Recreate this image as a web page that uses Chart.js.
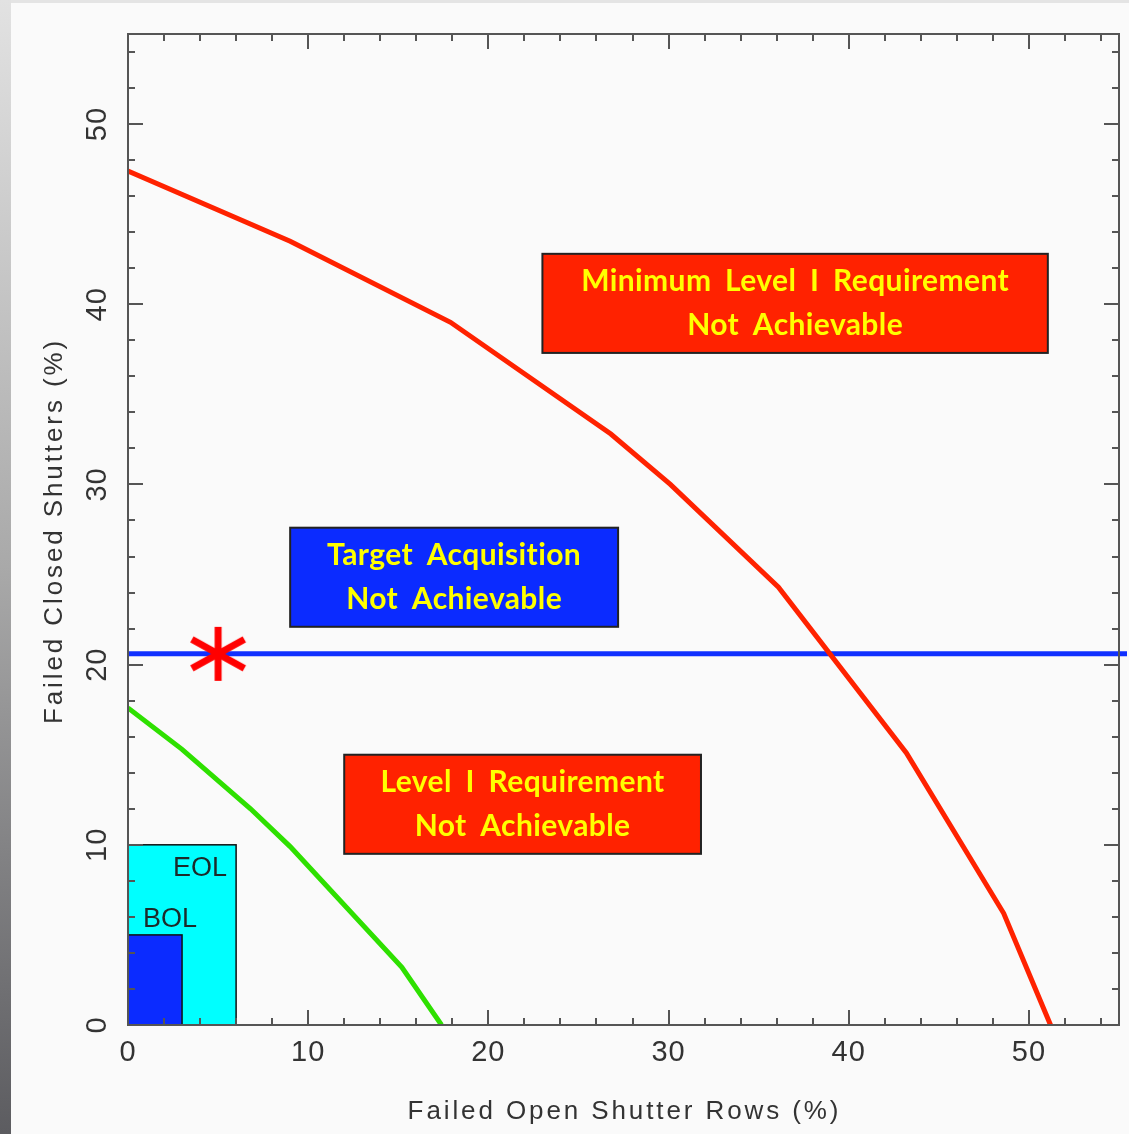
<!DOCTYPE html>
<html><head><meta charset="utf-8">
<script src="https://cdn.jsdelivr.net/npm/chart.js@4.4.1/dist/chart.umd.min.js"></script>
<style>
html,body{margin:0;padding:0;background:#fafafa;overflow:hidden}
#wrap{position:relative;width:1129px;height:1134px}
#c{position:absolute;left:0;top:0}
#topstrip{position:absolute;left:0;top:0;width:1129px;height:3px;background:#e4e4e4}
#leftstrip{position:absolute;left:0;top:0;width:11px;height:1134px;background:linear-gradient(#e2e2e2,#a9a9a9 50%,#5c5c60)}
</style></head><body>
<div id="wrap"><canvas id="c" width="1129" height="1134"></canvas><div id="topstrip"></div><div id="leftstrip"></div></div>
<script>
// ---- data ----
const redX = [0, 9.0, 17.9, 26.8, 30.1, 36.1, 43.2, 48.6, 51.2];
const redY = [47.4, 43.5, 39.0, 32.8, 30.0, 24.3, 15.1, 6.2, 0];
const greenX = [0, 3.0, 6.8, 9.0, 15.2, 17.4];
const greenY = [17.6, 15.3, 12.0, 9.9, 3.2, 0];
const blueX = [0, 55.5];
const blueY = [20.6, 20.6];
const starX = [5.0];
const starY = [20.6];
const xTickValues = [0, 10, 20, 30, 40, 50];
const yTickValues = [0, 10, 20, 30, 40, 50];
const xTickLabels = ['0', '10', '20', '30', '40', '50'];
const yTickLabels = ['0', '10', '20', '30', '40', '50'];
const minorStep = 2;
const axisMax = 55;
const xTitle = 'Failed Open Shutter Rows (%)';
const yTitle = 'Failed Closed Shutters (%)';
const noteLines = [['Minimum Level I Requirement', 'Not Achievable'], ['Target Acquisition', 'Not Achievable'], ['Level I Requirement', 'Not Achievable']];
const noteX0 = [23.0, 9.0, 12.0];
const noteX1 = [51.05, 27.2, 31.8];
const noteY0 = [37.3, 22.1, 9.5];
const noteY1 = [42.8, 27.6, 15.0];
const specLabels = ['EOL', 'BOL'];
const specX1 = [6, 3];
const specY1 = [10, 5];

// ---- styles ----
const noteFill = ['#ff2200', '#0b2bff', '#ff2200'];
const specFill = ['#00ffff', '#0b2bff'];
const axisColor = '#555555';
const textColor = '#333333';

function pts(xs, ys) { return xs.map((x, i) => ({x: x, y: ys[i]})); }

const starImg = document.createElement('canvas');
starImg.width = 66; starImg.height = 66;
(function () {
  const g = starImg.getContext('2d');
  g.strokeStyle = '#ff0000'; g.lineWidth = 7; g.lineCap = 'butt';
  g.translate(33, 33);
  g.beginPath(); g.moveTo(0, -27); g.lineTo(0, 27); g.stroke();
  const a = 29 * Math.PI / 180, L = 30;
  g.beginPath(); g.moveTo(-L * Math.cos(a), -L * Math.sin(a)); g.lineTo(L * Math.cos(a), L * Math.sin(a)); g.stroke();
  g.beginPath(); g.moveTo(-L * Math.cos(a), L * Math.sin(a)); g.lineTo(L * Math.cos(a), -L * Math.sin(a)); g.stroke();
})();

const decor = {
  id: 'decor',
  beforeDraw(chart) {
    const c = chart.ctx;
    c.save(); c.fillStyle = '#fafafa'; c.fillRect(0, 0, chart.width, chart.height); c.restore();
  },
  beforeDatasetsDraw(chart) {
    const c = chart.ctx, xs = chart.scales.x, ys = chart.scales.y;
    c.save();
    // EOL / BOL boxes
    for (let i = 0; i < specLabels.length; i++) {
      const l = xs.getPixelForValue(0), r = xs.getPixelForValue(specX1[i]);
      const t = ys.getPixelForValue(specY1[i]), b = ys.getPixelForValue(0);
      c.fillStyle = specFill[i]; c.fillRect(l, t, r - l, b - t);
      c.strokeStyle = '#111'; c.lineWidth = 1.5; c.strokeRect(l, t, r - l, b - t);
    }
    c.fillStyle = '#1c2a2a';
    c.font = '27px "Liberation Sans"';
    c.textBaseline = 'alphabetic';
    c.textAlign = 'right';
    c.fillText(specLabels[0], xs.getPixelForValue(specX1[0]) - 9, ys.getPixelForValue(specY1[0]) + 31);
    c.textAlign = 'left';
    c.fillText(specLabels[1], xs.getPixelForValue(0) + 15, ys.getPixelForValue(specY1[1]) - 8);
    // note boxes
    for (let i = 0; i < noteLines.length; i++) {
      const l = xs.getPixelForValue(noteX0[i]), r = xs.getPixelForValue(noteX1[i]);
      const t = ys.getPixelForValue(noteY1[i]), b = ys.getPixelForValue(noteY0[i]);
      c.fillStyle = noteFill[i]; c.fillRect(l, t, r - l, b - t);
      c.strokeStyle = '#222'; c.lineWidth = 2; c.strokeRect(l, t, r - l, b - t);
      c.fillStyle = '#ffff00';
      c.font = 'bold 30px Lato';
      c.textAlign = 'center'; c.textBaseline = 'middle';
      c.wordSpacing = '6px';
      c.letterSpacing = '0.4px';
      const cx = (l + r) / 2, cy = (t + b) / 2;
      c.fillText(noteLines[i][0], cx, cy - 22);
      c.fillText(noteLines[i][1], cx, cy + 22);
      c.wordSpacing = '0px';
      c.letterSpacing = '0px';
    }
    c.restore();
  },
  afterDatasetsDraw(chart) {
    const c = chart.ctx, xs = chart.scales.x, ys = chart.scales.y, a = chart.chartArea;
    c.save();
    c.strokeStyle = axisColor; c.lineWidth = 2;
    c.strokeRect(a.left, a.top, a.right - a.left, a.bottom - a.top);
    c.beginPath();
    for (let v = 0; v <= axisMax; v += minorStep) {
      const px = Math.round(xs.getPixelForValue(v));
      const py = Math.round(ys.getPixelForValue(v));
      const len = 7;
      c.moveTo(px, a.bottom); c.lineTo(px, a.bottom - len);
      c.moveTo(px, a.top); c.lineTo(px, a.top + len);
      c.moveTo(a.left, py); c.lineTo(a.left + len, py);
      c.moveTo(a.right, py); c.lineTo(a.right - len, py);
    }
    for (let i = 0; i < xTickValues.length; i++) {
      const px = Math.round(xs.getPixelForValue(xTickValues[i]));
      c.moveTo(px, a.bottom); c.lineTo(px, a.bottom - 15);
      c.moveTo(px, a.top); c.lineTo(px, a.top + 15);
    }
    for (let i = 0; i < yTickValues.length; i++) {
      const py = Math.round(ys.getPixelForValue(yTickValues[i]));
      c.moveTo(a.left, py); c.lineTo(a.left + 15, py);
      c.moveTo(a.right, py); c.lineTo(a.right - 15, py);
    }
    c.stroke();
    // tick labels
    c.fillStyle = textColor;
    c.font = '29px "Liberation Sans"';
    c.letterSpacing = '1px';
    c.textAlign = 'center'; c.textBaseline = 'middle';
    for (let i = 0; i < xTickValues.length; i++) {
      c.fillText(xTickLabels[i], xs.getPixelForValue(xTickValues[i]), a.bottom + 28);
    }
    for (let i = 0; i < yTickValues.length; i++) {
      c.save();
      c.translate(a.left - 30, ys.getPixelForValue(yTickValues[i]));
      c.rotate(-Math.PI / 2);
      c.fillText(yTickLabels[i], 0, 0);
      c.restore();
    }
    // titles
    c.font = '26px "Liberation Sans"';
    c.letterSpacing = '2.9px';
    c.fillText(xTitle, (a.left + a.right) / 2 + 1, a.bottom + 87);
    c.save();
    c.translate(a.left - 73, 531);
    c.rotate(-Math.PI / 2);
    c.fillText(yTitle, 0, 0);
    c.restore();
    c.restore();
  }
};

new Chart(document.getElementById('c'), {
  type: 'scatter',
  data: {
    datasets: [
      {data: pts(starX, starY), pointStyle: starImg, pointRadius: 30, showLine: false},
      {data: pts(redX, redY), showLine: true, borderColor: '#ff2200', borderWidth: 5, pointRadius: 0, tension: 0},
      {data: pts(blueX, blueY), showLine: true, borderColor: '#1030ff', borderWidth: 5, pointRadius: 0, tension: 0, clip: 8},
      {data: pts(greenX, greenY), showLine: true, borderColor: '#2ee000', borderWidth: 5, pointRadius: 0, tension: 0}
    ]
  },
  options: {
    responsive: false, animation: false, devicePixelRatio: 1,
    layout: {autoPadding: false, padding: {left: 128, top: 34, right: 10, bottom: 109}},
    scales: {
      x: {type: 'linear', min: 0, max: axisMax, display: false},
      y: {type: 'linear', min: 0, max: axisMax, display: false}
    },
    plugins: {legend: {display: false}, tooltip: {enabled: false}}
  },
  plugins: [decor]
});
</script>
</body></html>
